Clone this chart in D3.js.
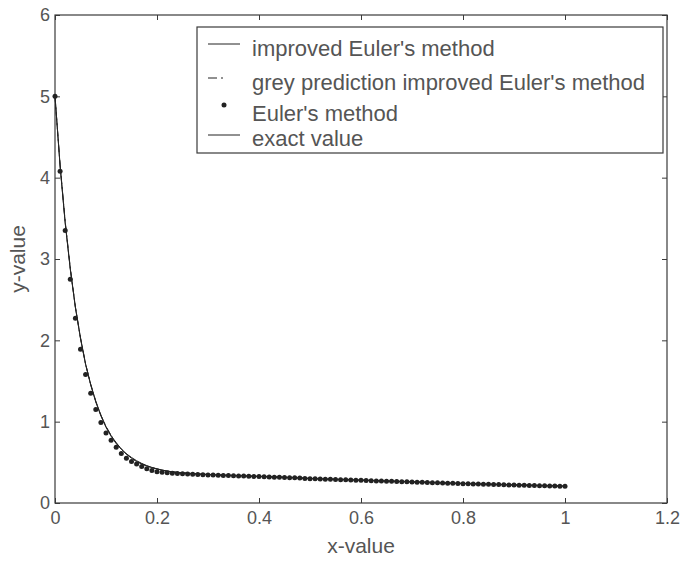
<!DOCTYPE html>
<html>
<head>
<meta charset="utf-8">
<script src="https://cdn.jsdelivr.net/npm/d3@7"></script>
<style>
  body { margin: 0; background: #fff; }
  text { font-family: "Liberation Sans", Arial, Helvetica, sans-serif; fill: #555; }
</style>
</head>
<body>
<svg id="chart" width="681" height="563"></svg>
<script>
// Step size of the numerical schemes (x = 0, 0.01, ..., 1.00)
const stepSize = 0.01;

// Exact solution, x = 0 .. 0.25
const exactHead = [5.00, 4.15, 3.45, 2.88, 2.41, 2.03, 1.71, 1.46, 1.25, 1.08,
  0.94, 0.83, 0.74, 0.665, 0.605, 0.56, 0.52, 0.487, 0.46, 0.438,
  0.42, 0.405, 0.393, 0.383, 0.376, 0.370];
// Improved Euler's method, x = 0 .. 0.25
const improvedHead = [5.00, 4.14, 3.44, 2.87, 2.40, 2.02, 1.70, 1.45, 1.24, 1.07,
  0.93, 0.82, 0.73, 0.66, 0.60, 0.55, 0.51, 0.48, 0.455, 0.434,
  0.418, 0.404, 0.392, 0.382, 0.375, 0.369];
// Grey prediction improved Euler's method, x = 0 .. 0.25
const greyHead = [5.00, 4.16, 3.46, 2.89, 2.41, 2.03, 1.71, 1.46, 1.25, 1.08,
  0.94, 0.83, 0.74, 0.665, 0.603, 0.553, 0.513, 0.481, 0.456, 0.435,
  0.419, 0.405, 0.393, 0.383, 0.376, 0.370];
// The three curves share their tail, x = 0.26 .. 1.00
const lineTail = [0.366, 0.361, 0.357, 0.353, 0.350, 0.347, 0.344, 0.342, 0.340, 0.338,
  0.336, 0.334, 0.331, 0.329, 0.327, 0.325, 0.322, 0.320, 0.318, 0.315,
  0.313, 0.311, 0.308, 0.305, 0.301, 0.299, 0.297, 0.295, 0.293, 0.291,
  0.289, 0.287, 0.285, 0.283, 0.281, 0.279, 0.277, 0.274, 0.272, 0.270,
  0.268, 0.266, 0.264, 0.262, 0.260, 0.258, 0.256, 0.254, 0.252, 0.250,
  0.248, 0.246, 0.244, 0.242, 0.240, 0.238, 0.236, 0.235, 0.233, 0.231,
  0.229, 0.228, 0.226, 0.224, 0.222, 0.221, 0.219, 0.218, 0.216, 0.215,
  0.213, 0.212, 0.211, 0.209, 0.208];
// Euler's method, x = 0 .. 1.00
const eulerValues = [5.00, 4.08, 3.35, 2.75, 2.27, 1.89, 1.58, 1.35, 1.15, 0.99,
  0.86, 0.77, 0.685, 0.61, 0.55, 0.51, 0.48, 0.45, 0.42, 0.40,
  0.385, 0.377, 0.371, 0.366, 0.362, 0.359,
  0.356, 0.353, 0.350, 0.348, 0.345, 0.343, 0.341, 0.339, 0.337, 0.335,
  0.333, 0.331, 0.329, 0.327, 0.325, 0.322, 0.320, 0.318, 0.316, 0.313,
  0.311, 0.309, 0.306, 0.302, 0.299, 0.297, 0.295, 0.293, 0.291, 0.289,
  0.287, 0.285, 0.283, 0.281, 0.279, 0.277, 0.275, 0.272, 0.270, 0.268,
  0.266, 0.264, 0.262, 0.260, 0.258, 0.256, 0.254, 0.252, 0.250, 0.248,
  0.246, 0.244, 0.242, 0.240, 0.238, 0.236, 0.234, 0.233, 0.231, 0.229,
  0.227, 0.226, 0.224, 0.222, 0.220, 0.219, 0.217, 0.216, 0.214, 0.213,
  0.211, 0.210, 0.209, 0.207, 0.206];

const xTicks = [0, 0.2, 0.4, 0.6, 0.8, 1, 1.2];
const yTicks = [0, 1, 2, 3, 4, 5, 6];
const legendLabels = ["improved Euler's method", "grey prediction improved Euler's method",
  "Euler's method", "exact value"];

const improvedValues = improvedHead.concat(lineTail);
const greyValues = greyHead.concat(lineTail);
const exactValues = exactHead.concat(lineTail);

const toPoints = vals => vals.map((v, i) => [i * stepSize, v]);

const svg = d3.select("#chart");
const ink = "#222";
const axisInk = "#3a3a3a";

const x = d3.scaleLinear().domain([0, 1.2]).range([55, 667]);
const y = d3.scaleLinear().domain([0, 6]).range([503, 15]);

// Axes with inward ticks on all four sides
const fmt = d => String(+d.toFixed(1));
const gx = svg.append("g").attr("transform", `translate(0,${y(0)})`)
  .call(d3.axisBottom(x).tickValues(xTicks).tickFormat(fmt).tickSize(-5).tickPadding(8));
const gy = svg.append("g").attr("transform", `translate(${x(0)},0)`)
  .call(d3.axisLeft(y).tickValues(yTicks).tickFormat(fmt).tickSize(-5).tickPadding(5));
const gt = svg.append("g").attr("transform", `translate(0,${y(6)})`)
  .call(d3.axisTop(x).tickValues(xTicks).tickFormat("").tickSize(-5));
const gr = svg.append("g").attr("transform", `translate(${x(1.2)},0)`)
  .call(d3.axisRight(y).tickValues(yTicks).tickFormat("").tickSize(-5));

[gx, gy, gt, gr].forEach(g => {
  g.select(".domain").remove();
  g.selectAll(".tick line").attr("stroke", axisInk);
  g.selectAll(".tick text").attr("font-size", 18).attr("font-family", null).style("fill", "#555");
});

svg.append("rect")
  .attr("x", x(0)).attr("y", y(6))
  .attr("width", x(1.2) - x(0)).attr("height", y(0) - y(6))
  .attr("fill", "none").attr("stroke", axisInk).attr("stroke-width", 1.2);

// Axis titles
svg.append("text").attr("x", (x(0) + x(1.2)) / 2).attr("y", 553)
  .attr("text-anchor", "middle").attr("font-size", 21).text("x-value");
svg.append("text").attr("transform", `translate(25,${(y(0) + y(6)) / 2}) rotate(-90)`)
  .attr("text-anchor", "middle").attr("font-size", 21).text("y-value");

// Curves
const line = d3.line().x(d => x(d[0])).y(d => y(d[1]));
svg.append("path").datum(toPoints(greyValues))
  .attr("d", line).attr("fill", "none").attr("stroke", ink).attr("stroke-width", 1)
  .attr("stroke-dasharray", "8,3,2,3");
svg.append("path").datum(toPoints(improvedValues))
  .attr("d", line).attr("fill", "none").attr("stroke", ink).attr("stroke-width", 1);
svg.append("path").datum(toPoints(exactValues))
  .attr("d", line).attr("fill", "none").attr("stroke", ink).attr("stroke-width", 1);

// Euler's method points
svg.append("g").selectAll("circle").data(toPoints(eulerValues)).join("circle")
  .attr("cx", d => x(d[0])).attr("cy", d => y(d[1])).attr("r", 2.5).attr("fill", ink);

// Legend
const lg = svg.append("g");
lg.append("rect").attr("x", 197).attr("y", 27).attr("width", 466).attr("height", 126)
  .attr("fill", "#fff").attr("stroke", axisInk).attr("stroke-width", 1.2);
const symY = [44, 78, 105, 135];
const textY = [48, 82, 113, 138];
legendLabels.forEach((label, i) => {
  if (i === 2) {
    lg.append("circle").attr("cx", 224).attr("cy", symY[i]).attr("r", 2.5).attr("fill", ink);
  } else {
    lg.append("line").attr("x1", 208).attr("x2", 240).attr("y1", symY[i]).attr("y2", symY[i])
      .attr("stroke", ink).attr("stroke-width", 1)
      .attr("stroke-dasharray", i === 1 ? "9,4,2,20" : null);
  }
  lg.append("text").attr("x", 252).attr("y", textY[i]).attr("dy", "0.35em")
    .attr("font-size", 22).text(label);
});
</script>
</body>
</html>
